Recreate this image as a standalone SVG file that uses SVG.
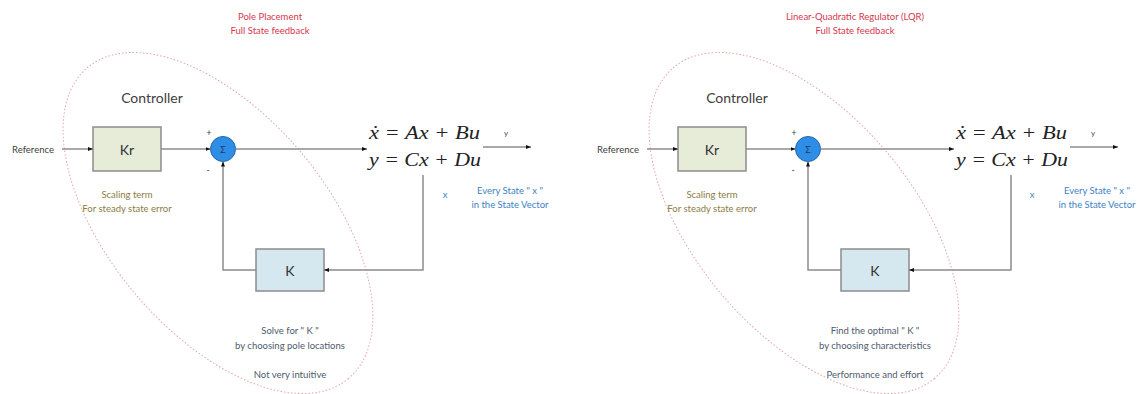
<svg xmlns="http://www.w3.org/2000/svg" width="1141" height="394" viewBox="0 0 1141 394">
<style>
text{font-family:Lato,"Liberation Sans",sans-serif;text-anchor:middle;dominant-baseline:central}
.title{font-size:9.5px;fill:#d6364d}
.ctl{font-size:14px;fill:#404040}
.ref{font-size:9.5px;fill:#404040}
.lbl{font-size:14px;fill:#333}
.sig{font-size:9px;fill:#1a3a6a}
.pm{font-size:8.5px;fill:#333}
.olive{font-size:9.5px;fill:#8a7d45}
.slate{font-size:9.5px;fill:#4e5a6e}
.blue{font-size:9.5px;fill:#3b82c8}
.eq{font-family:"Liberation Serif","DejaVu Serif",serif;font-style:italic;font-size:19px;fill:#222;text-anchor:start;dominant-baseline:auto}
.yl{font-size:8px;fill:#444}
.ell{fill:none;stroke:#e3a3ab;stroke-width:1;stroke-dasharray:1.5 2}
.kr{fill:#e6ecd8;stroke:#8c8c8c;stroke-width:1.5}
.kb{fill:#d5e7ef;stroke:#8c8c8c;stroke-width:1.5}
.sum{fill:#2e8ee6;stroke:#1f64b0;stroke-width:1}
.wire{fill:none;stroke:#8c8c8c;stroke-width:1.5}
</style>
<defs>
<marker id="ah" viewBox="0 0 10 10" refX="10" refY="5" markerWidth="5" markerHeight="5" orient="auto" markerUnits="userSpaceOnUse">
<path d="M0,1 L10,5 L0,9 z" fill="#111"/>
</marker>
</defs>

<g id="left-panel">
<g id="title-left">
<text class="title" x="270" y="16">Pole Placement</text>
<text class="title" x="270" y="30">Full State feedback</text>
</g>
<g id="controller-left">
<ellipse class="ell" cx="218" cy="223" rx="203" ry="109" transform="rotate(50 218 223)"/>
<text class="ctl" x="152" y="97">Controller</text>
</g>
<g id="reference-left"><text class="ref" x="33" y="149">Reference</text></g>
<g id="kr-left">
<rect class="kr" x="93" y="127" width="68" height="44"/>
<text class="lbl" x="127" y="149">Kr</text>
<text class="olive" x="127" y="194">Scaling term</text>
<text class="olive" x="127" y="208">For steady state error</text>
</g>
<g id="sum-left">
<circle class="sum" cx="223" cy="149" r="12.5"/>
<text class="sig" x="223" y="149">Σ</text>
<text class="pm" x="209" y="133">+</text>
<text class="pm" x="208" y="170">-</text>
</g>
<g id="plant-left">
<text class="eq" x="369" y="139" textLength="111" lengthAdjust="spacingAndGlyphs">ẋ = Ax + Bu</text>
<text class="eq" x="369" y="166" textLength="112" lengthAdjust="spacingAndGlyphs">y = Cx + Du</text>
<text class="yl" x="506" y="133">y</text>
<text class="blue" x="445" y="194">x</text>
<text class="blue" x="510" y="190">Every State " x "</text>
<text class="blue" x="510" y="204">in the State Vector</text>
</g>
<g id="k-left">
<rect class="kb" x="256" y="249" width="68" height="42"/>
<text class="lbl" x="290" y="270">K</text>
<text class="slate" x="290" y="330">Solve for " K "</text>
<text class="slate" x="290" y="345">by choosing pole locations</text>
<text class="slate" x="290" y="374">Not very intuitive</text>
</g>
</g>

<g id="right-panel">
<g id="title-right">
<text class="title" x="855" y="16">Linear-Quadratic Regulator (LQR)</text>
<text class="title" x="855" y="30">Full State feedback</text>
</g>
<g id="controller-right">
<ellipse class="ell" cx="804" cy="223" rx="203" ry="109" transform="rotate(50 804 223)"/>
<text class="ctl" x="737" y="97">Controller</text>
</g>
<g id="reference-right"><text class="ref" x="618" y="149">Reference</text></g>
<g id="kr-right">
<rect class="kr" x="678" y="127" width="68" height="44"/>
<text class="lbl" x="712" y="149">Kr</text>
<text class="olive" x="712" y="194">Scaling term</text>
<text class="olive" x="712" y="208">For steady state error</text>
</g>
<g id="sum-right">
<circle class="sum" cx="808" cy="149" r="12.5"/>
<text class="sig" x="808" y="149">Σ</text>
<text class="pm" x="794" y="133">+</text>
<text class="pm" x="793" y="170">-</text>
</g>
<g id="plant-right">
<text class="eq" x="956" y="139" textLength="111" lengthAdjust="spacingAndGlyphs">ẋ = Ax + Bu</text>
<text class="eq" x="956" y="166" textLength="112" lengthAdjust="spacingAndGlyphs">y = Cx + Du</text>
<text class="yl" x="1093" y="133">y</text>
<text class="blue" x="1032" y="194">x</text>
<text class="blue" x="1097" y="190">Every State " x "</text>
<text class="blue" x="1097" y="204">in the State Vector</text>
</g>
<g id="k-right">
<rect class="kb" x="841" y="249" width="68" height="42"/>
<text class="lbl" x="875" y="270">K</text>
<text class="slate" x="875" y="330">Find the optimal " K "</text>
<text class="slate" x="875" y="345">by choosing characteristics</text>
<text class="slate" x="875" y="374">Performance and effort</text>
</g>
</g>

<g id="connectors">
<path class="wire" d="M62,149 H93" marker-end="url(#ah)"/>
<path class="wire" d="M161,149 H210.5" marker-end="url(#ah)"/>
<path class="wire" d="M235.5,149 H367" marker-end="url(#ah)"/>
<path class="wire" d="M483,147 H531" marker-end="url(#ah)"/>
<path class="wire" d="M423,175 V270 H324" marker-end="url(#ah)"/>
<path class="wire" d="M256,270 H223 V161.5" marker-end="url(#ah)"/>

<path class="wire" d="M647,149 H678" marker-end="url(#ah)"/>
<path class="wire" d="M746,149 H795.5" marker-end="url(#ah)"/>
<path class="wire" d="M820.5,149 H954" marker-end="url(#ah)"/>
<path class="wire" d="M1070,147 H1118" marker-end="url(#ah)"/>
<path class="wire" d="M1011,175 V270 H909" marker-end="url(#ah)"/>
<path class="wire" d="M841,270 H808 V161.5" marker-end="url(#ah)"/>
</g>
</svg>
